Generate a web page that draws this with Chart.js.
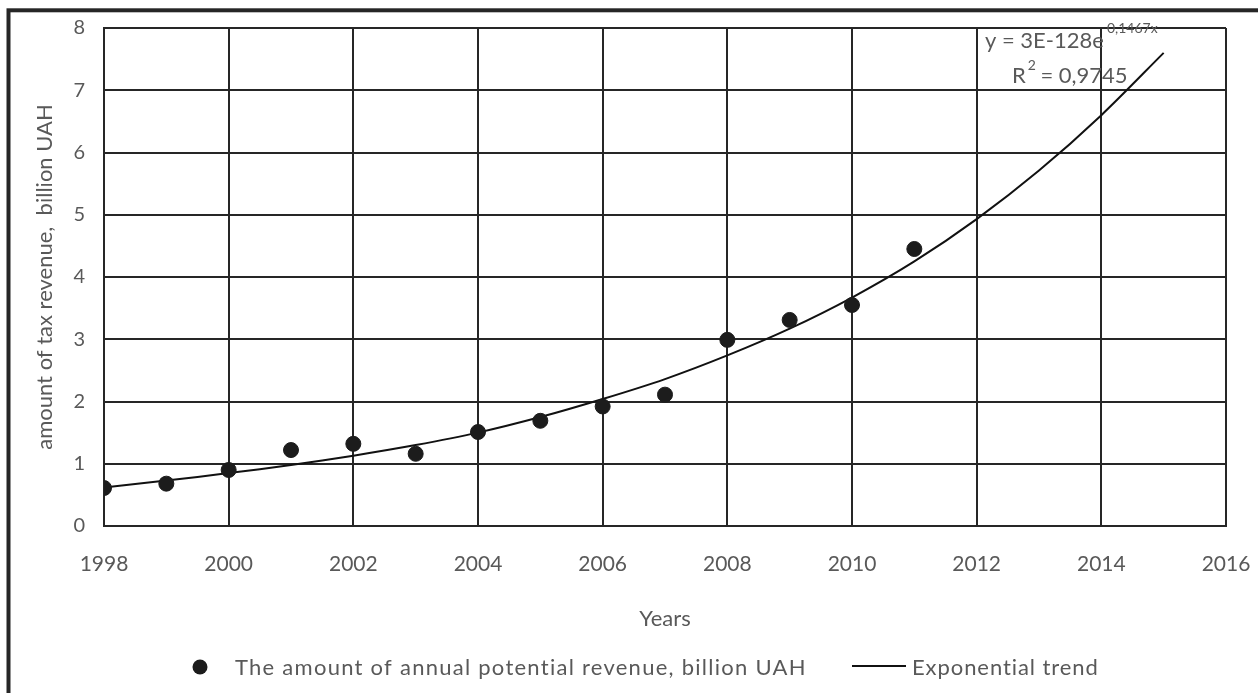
<!DOCTYPE html>
<html>
<head>
<meta charset="utf-8">
<script src="https://cdn.jsdelivr.net/npm/chart.js@4/dist/chart.umd.min.js"></script>
<style>
  html, body { margin: 0; padding: 0; background: #fff; }
  #chart { display: block; }
</style>
</head>
<body>
<canvas id="chart" width="1258" height="693"></canvas>
<script>
const years = [1998, 1999, 2000, 2001, 2002, 2003, 2004, 2005, 2006, 2007, 2008, 2009, 2010, 2011];
const revenue = [0.61, 0.68, 0.90, 1.22, 1.32, 1.16, 1.51, 1.69, 1.92, 2.11, 2.99, 3.31, 3.55, 4.45];

// trend line as drawn in the picture
const trendYears = [1998, 1999, 2000, 2001, 2002, 2003, 2004, 2005, 2006, 2007, 2008, 2009, 2010, 2011, 2012, 2013, 2014, 2015];
const trendValues = [0.62, 0.73, 0.85, 0.98, 1.13, 1.30, 1.50, 1.75, 2.04, 2.36, 2.74, 3.17, 3.67, 4.25, 4.93, 5.71, 6.60, 7.60];

const seriesLabels = ['The amount of annual potential revenue, billion UAH', 'Exponential trend'];
const trendEquation = { main: 'y = 3E-128e', exponent: '0,1467x', r2: '0,9745' };

const textColor = '#595959';
const lineColor = '#262626';
const fontFamily = 'Lato, "Open Sans", sans-serif';

const toPoints = (xs, ys) => xs.map((x, i) => ({ x: x, y: ys[i] }));

// outer frame + white background
const framePlugin = {
    id: 'frame',
    beforeDraw(chart) {
        const ctx = chart.ctx;
        ctx.save();
        ctx.fillStyle = '#fff';
        ctx.fillRect(0, 0, chart.width, chart.height);
        ctx.strokeStyle = lineColor;
        ctx.lineWidth = 4;
        ctx.strokeRect(8.5, 10.3, chart.width + 50, chart.height + 50);
        ctx.restore();
    }
};

// trendline equation in the top-right corner
const equationPlugin = {
    id: 'equation',
    afterDraw(chart) {
        const ctx = chart.ctx;
        const area = chart.chartArea;
        ctx.save();
        ctx.fillStyle = textColor;
        ctx.textBaseline = 'alphabetic';
        ctx.textAlign = 'left';
        ctx.font = '22px ' + fontFamily;
        const x0 = area.right - 241;
        ctx.fillText(trendEquation.main, x0, 48);
        const w = ctx.measureText(trendEquation.main).width;
        ctx.font = '14px ' + fontFamily;
        ctx.fillText(trendEquation.exponent, x0 + w + 3, 33);
        ctx.font = '22px ' + fontFamily;
        const rx = area.right - 214;
        ctx.fillText('R', rx, 83);
        const rw = ctx.measureText('R').width;
        ctx.font = '14px ' + fontFamily;
        ctx.fillText('2', rx + rw + 2, 70);
        ctx.font = '22px ' + fontFamily;
        ctx.fillText(' = ' + trendEquation.r2, rx + rw + 9, 83);
        ctx.restore();
    }
};

// legend drawn below the x axis title
const legendPlugin = {
    id: 'customLegend',
    afterDraw(chart) {
        const ctx = chart.ctx;
        const ds = chart.data.datasets;
        ctx.save();
        ctx.font = '22px ' + fontFamily;
        ctx.textBaseline = 'middle';
        ctx.textAlign = 'left';
        const fit = (text, target) => {
            ctx.letterSpacing = '0px';
            const w = ctx.measureText(text).width;
            ctx.letterSpacing = ((target - w) / text.length).toFixed(2) + 'px';
        };

        // scatter item
        ctx.beginPath();
        ctx.arc(200, 667, 7.5, 0, Math.PI * 2);
        ctx.fillStyle = ds[0].backgroundColor;
        ctx.fill();
        ctx.fillStyle = textColor;
        fit(ds[0].label, 572);
        ctx.fillText(ds[0].label, 235, 668);

        // line item
        ctx.letterSpacing = '0px';
        ctx.strokeStyle = ds[1].borderColor;
        ctx.lineWidth = 2;
        ctx.beginPath();
        ctx.moveTo(852, 666);
        ctx.lineTo(906, 666);
        ctx.stroke();
        fit(ds[1].label, 187);
        ctx.fillText(ds[1].label, 912, 668);
        ctx.restore();
    }
};

new Chart(document.getElementById('chart'), {
    type: 'scatter',
    data: {
        datasets: [
            {
                label: seriesLabels[0],
                data: toPoints(years, revenue),
                backgroundColor: '#1c1c1c',
                borderColor: '#1c1c1c',
                pointRadius: 7.5,
                pointHoverRadius: 7.5,
                order: 1
            },
            {
                label: seriesLabels[1],
                data: toPoints(trendYears, trendValues),
                showLine: true,
                borderColor: '#111',
                borderWidth: 2,
                pointRadius: 0,
                tension: 0.3,
                order: 2
            }
        ]
    },
    options: {
        responsive: false,
        animation: false,
        layout: { padding: { left: 0, top: 28, right: 32, bottom: 0 } },
        plugins: {
            legend: { display: false },
            tooltip: { enabled: false }
        },
        scales: {
            x: {
                type: 'linear',
                min: 1998,
                max: 2016,
                afterFit: (scale) => {
                    scale.height = 167;
                    scale.paddingLeft = 0;
                    scale.paddingRight = 0;
                },
                ticks: {
                    stepSize: 2,
                    color: textColor,
                    font: { family: fontFamily, size: 21 },
                    padding: 26,
                    maxRotation: 0,
                    callback: (v) => String(v)
                },
                grid: { color: lineColor, lineWidth: 2, drawTicks: false },
                border: { color: lineColor, width: 2 },
                title: {
                    display: true,
                    text: 'Years',
                    color: textColor,
                    font: { family: fontFamily, size: 22, lineHeight: 1.2 },
                    padding: { top: 0, bottom: 61 }
                }
            },
            y: {
                min: 0,
                max: 8,
                afterFit: (scale) => {
                    scale.width = 104;
                    scale.paddingTop = 0;
                    scale.paddingBottom = 0;
                },
                ticks: {
                    stepSize: 1,
                    color: textColor,
                    font: { family: fontFamily, size: 20 },
                    padding: 19
                },
                grid: { color: lineColor, lineWidth: 2, drawTicks: false },
                border: { color: lineColor, width: 2 },
                title: {
                    display: true,
                    text: 'amount of tax revenue,  billion UAH',
                    color: textColor,
                    font: { family: fontFamily, size: 22, lineHeight: 1.2 },
                    padding: { top: 32, bottom: 0 }
                }
            }
        }
    },
    plugins: [framePlugin, equationPlugin, legendPlugin]
});
</script>
</body>
</html>
